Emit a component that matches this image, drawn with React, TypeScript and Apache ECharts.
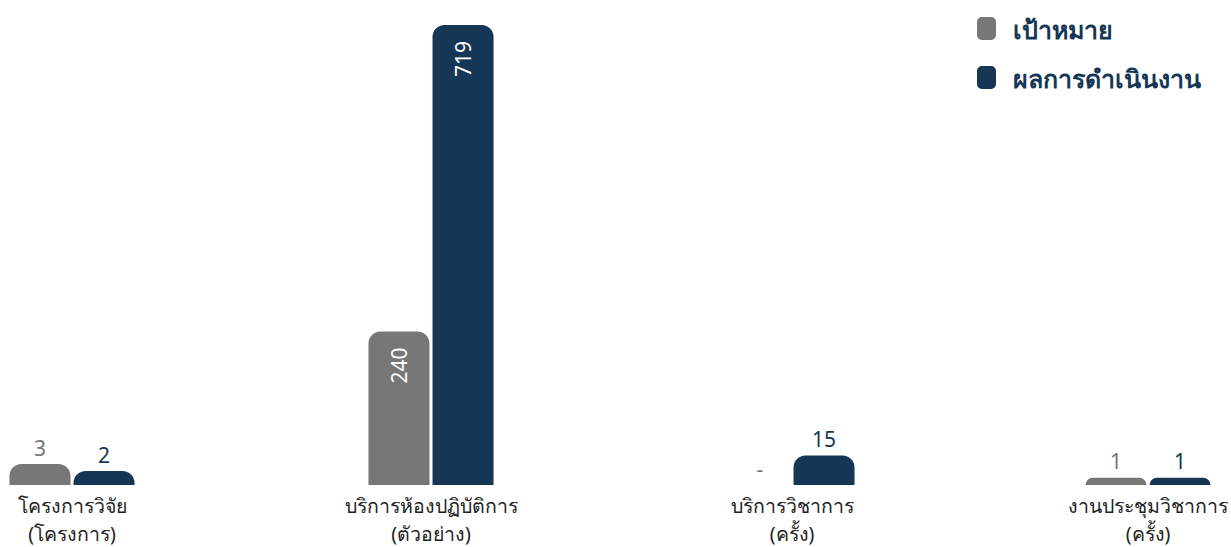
import React, { useEffect, useRef } from "react";
import * as echarts from "echarts";

const categories = [
  "โครงการวิจัย\n(โครงการ)",
  "บริการห้องปฏิบัติการ\n(ตัวอย่าง)",
  "บริการวิชาการ\n(ครั้ง)",
  "งานประชุมวิชาการ\n(ครั้ง)",
];
const targetValues: (number | null)[] = [3, 240, 0, 1];
const actualValues: number[] = [2, 719, 15, 1];
const seriesNames = ["เป้าหมาย", "ผลการดำเนินงาน"];

// each group uses its own value scale
const groupAxisMax = [66, 719, 234, 64];
const groupCenters = [72, 431, 792, 1153];

const GRAY = "#777777";
const NAVY = "#153654";
const FONT = "Noto Sans, Roboto, sans-serif";

export default function App() {
  const ref = useRef<HTMLDivElement>(null);
  useEffect(() => {
    if (!ref.current) return;
    const chart = echarts.init(ref.current, undefined, { renderer: "svg" });
    const grids: any[] = [];
    const xAxes: any[] = [];
    const yAxes: any[] = [];
    const series: any[] = [];
    const big = (v: number, max: number) => v / max > 0.2;
    categories.forEach((cat, i) => {
      grids.push({ left: groupCenters[i] - 70, width: 140, top: 25, bottom: 57 });
      xAxes.push({
        type: "category",
        gridIndex: i,
        data: [cat],
        axisLine: { show: false },
        axisTick: { show: false },
        axisLabel: {
          color: "#222",
          fontSize: 19.5,
          lineHeight: 28,
          margin: 6,
          fontFamily: FONT,
          interval: 0,
        },
      });
      yAxes.push({
        type: "value",
        gridIndex: i,
        min: 0,
        max: groupAxisMax[i],
        show: false,
        splitLine: { show: false },
      });
      const mk = (name: string, val: number | null, color: string) => {
        const isBig = val != null && big(val, groupAxisMax[i]);
        return {
          name,
          type: "bar",
          xAxisIndex: i,
          yAxisIndex: i,
          barWidth: 61,
          barGap: "5%",
          data: [val],
          itemStyle: { color, borderRadius: [12, 12, 0, 0] },
          label: isBig
            ? {
                show: true,
                position: "insideTop",
                rotate: 90,
                align: "right",
                verticalAlign: "middle",
                distance: 16,
                color: "#fff",
                fontSize: 21,
                fontFamily: FONT,
              }
            : {
                show: true,
                position: "top",
                distance: 6,
                color,
                fontSize: 21,
                fontFamily: FONT,
                formatter: (p: any) => (p.value ? String(p.value) : "-"),
              },
        };
      };
      series.push(mk(seriesNames[0], targetValues[i], GRAY));
      series.push(mk(seriesNames[1], actualValues[i], NAVY));
    });
    chart.setOption({
      animation: false,
      color: [GRAY, NAVY],
      legend: {
        data: seriesNames,
        orient: "vertical",
        left: 972,
        top: 11,
        icon: "roundRect",
        itemWidth: 19,
        itemHeight: 23,
        itemGap: 24,
        textStyle: {
          color: NAVY,
          fontSize: 25,
          fontWeight: "bold",
          fontFamily: FONT,
          padding: [0, 0, 0, 12],
        },
      },
      grid: grids,
      xAxis: xAxes,
      yAxis: yAxes,
      series,
    });
    return () => chart.dispose();
  }, []);
  return (
    <div
      ref={ref}
      style={{ position: "fixed", left: 0, top: 0, width: 1231, height: 547, background: "#fff" }}
    />
  );
}
